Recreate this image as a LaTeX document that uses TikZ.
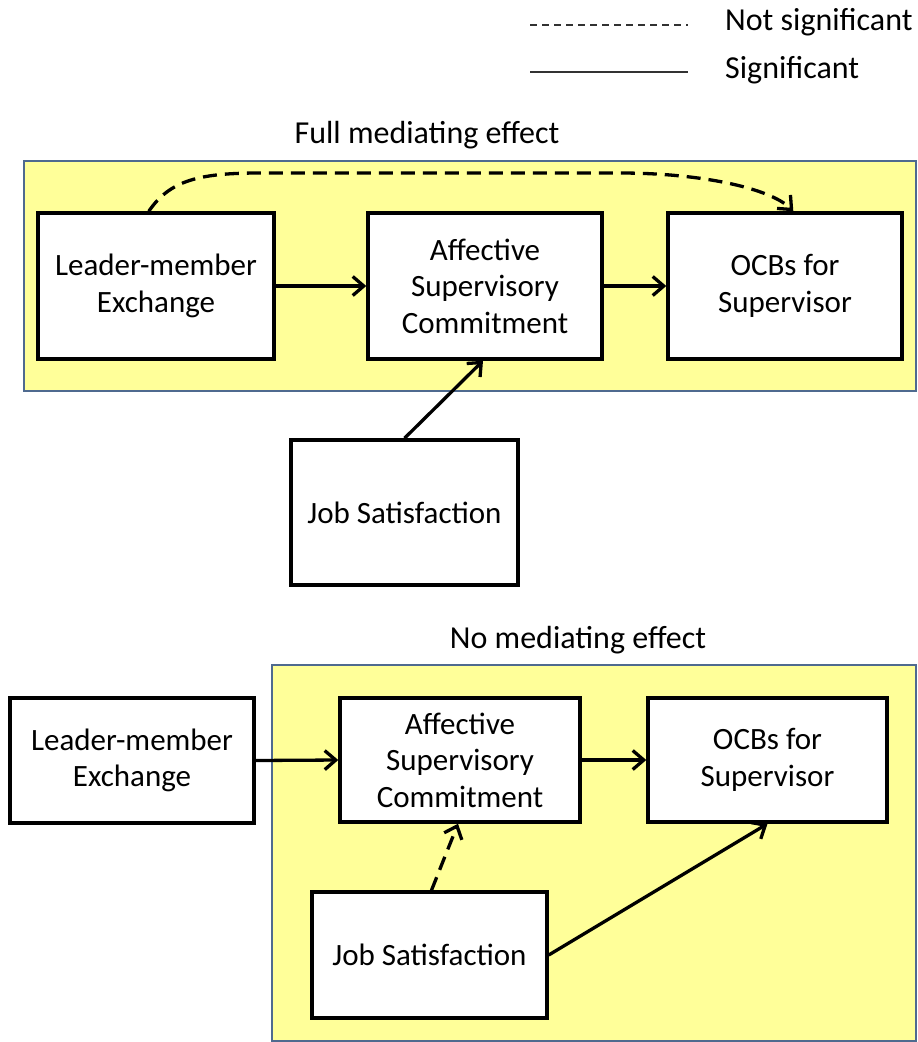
\documentclass[tikz,border=0pt]{standalone}
\usepackage{fontspec}
\setmainfont{Carlito}
\usetikzlibrary{arrows.meta,calc}

\definecolor{panelfill}{RGB}{255,255,153}
\definecolor{panelline}{RGB}{79,106,143}
\definecolor{legendgray}{RGB}{50,50,50}

\tikzset{
  varbox/.style={draw=black, line width=3.5pt, fill=white, align=center,
    inner sep=4pt, font=\fontsize{31}{36.5}\selectfont},
  panel/.style={draw=panelline, line width=2.5pt, fill=panelfill},
  heading/.style={inner sep=0pt, font=\fontsize{32}{36}\selectfont},
  link/.style={line width=3.3pt, -{Straight Barb[length=11pt,width=19pt]}},
  weak/.style={link, dash pattern=on 14pt off 8pt},
  legendline/.style={draw=legendgray, line width=2.2pt},
}

\begin{document}
\begin{tikzpicture}[x=1pt, y=-1pt]
\useasboundingbox (0,0) rectangle (918,1042);

% legend
\coordinate (nsA) at (530,25);
\coordinate (nsB) at (688,25);
\coordinate (sgA) at (530,72);
\coordinate (sgB) at (688,72);
\draw[legendline, dash pattern=on 7pt off 5pt] (nsA) -- (nsB);
\draw[legendline] (sgA) -- (sgB);
\node[heading, anchor=west] (nslabel) at (725,22) {Not significant};
\node[heading, anchor=west] (sglabel) at (725,70) {Significant};

% full mediating effect
\node[heading] (fulltitle) at (427,135) {Full mediating effect};
\draw[panel] (24,161) rectangle (916,391);

\node[varbox, minimum width=236pt, minimum height=146pt] (lmxA) at (156,286) {Leader-member\\Exchange};
\node[varbox, minimum width=234pt, minimum height=146pt] (ascA) at (485,286) {Affective\\Supervisory\\Commitment};
\node[varbox, minimum width=234pt, minimum height=146pt] (ocbA) at (785,286) {OCBs for\\Supervisor};
\node[varbox, minimum width=227pt, minimum height=145pt] (jsA) at (404.5,512.5) {Job Satisfaction};

\coordinate (lmxAtop) at ($(lmxA.north west)!0.47!(lmxA.north east)$);
\coordinate (ocbAtop) at ($(ocbA.north west)!0.535!(ocbA.north east)$);
\draw[weak] (lmxAtop) .. controls (170,180) and (200,173) .. (260,173)
  -- (620,173) .. controls (700,173) and (770,188) .. (ocbAtop);
\draw[link] (lmxA.east) -- (ascA.west);
\draw[link] (ascA.east) -- (ocbA.west);
\draw[link] (jsA.north) -- ($(ascA.south)+(-2,0)$);

% no mediating effect
\node[heading] (notitle) at (578,640) {No mediating effect};
\draw[panel] (272,665) rectangle (916,1041);

\node[varbox, minimum width=244pt, minimum height=125pt] (lmxB) at (132,760.5) {Leader-member\\Exchange};
\node[varbox, minimum width=240pt, minimum height=124pt] (ascB) at (460,760) {Affective\\Supervisory\\Commitment};
\node[varbox, minimum width=239pt, minimum height=124pt] (ocbB) at (767.5,760) {OCBs for\\Supervisor};
\node[varbox, minimum width=235pt, minimum height=126pt] (jsB) at (429.5,955) {Job Satisfaction};

\draw[link] (lmxB.east) -- (ascB.west);
\draw[link] (ascB.east) -- (ocbB.west);
\draw[weak] ($(jsB.north)+(2,0)$) -- ($(ascB.south)+(-2,0)$);
\draw[link] (jsB.east) -- (ocbB.south);
\end{tikzpicture}
\end{document}
